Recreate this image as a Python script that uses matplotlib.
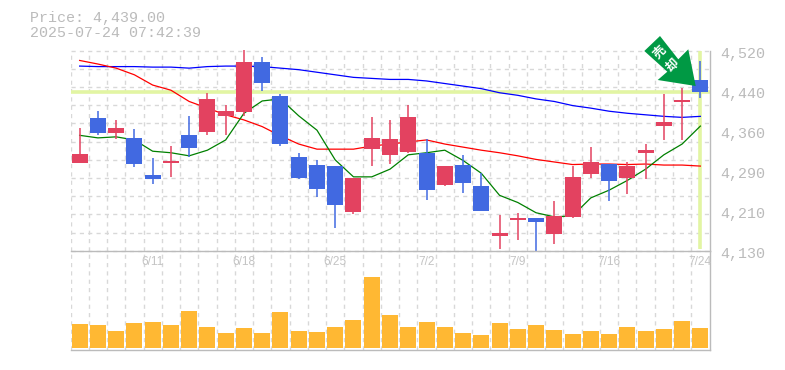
import numpy as np
import matplotlib
matplotlib.use('Agg')
import matplotlib.pyplot as plt
from matplotlib.patches import Polygon

opens = [4301, 4389, 4360, 4350, 4278, 4301, 4356, 4362, 4393, 4400, 4498, 4432, 4313, 4297, 4295, 4206, 4328, 4317,
         4323, 4321, 4258, 4297, 4256, 4159, 4190, 4194, 4163, 4196, 4280, 4299, 4272, 4321, 4373, 4420, 4463]
highs = [4369, 4402, 4385, 4367, 4311, 4334, 4393, 4438, 4414, 4521, 4508, 4436, 4321, 4307, 4295, 4272, 4391, 4385,
         4414, 4348, 4295, 4317, 4282, 4200, 4204, 4194, 4227, 4295, 4332, 4299, 4303, 4338, 4436, 4447, 4500]
lows = [4301, 4356, 4347, 4294, 4261, 4274, 4313, 4356, 4356, 4393, 4441, 4334, 4270, 4235, 4175, 4202, 4295, 4299,
        4321, 4229, 4256, 4243, 4207, 4133, 4151, 4130, 4143, 4194, 4272, 4227, 4241, 4270, 4346, 4346, 4428]
closes = [4319, 4360, 4369, 4299, 4270, 4305, 4330, 4426, 4402, 4498, 4457, 4338, 4272, 4250, 4219, 4272, 4350, 4348,
          4391, 4248, 4295, 4262, 4207, 4165, 4194, 4186, 4198, 4274, 4303, 4266, 4295, 4326, 4381, 4424, 4439]

ma_long = [4490, 4489, 4489, 4489, 4488, 4488, 4486, 4489, 4490, 4490, 4489, 4486, 4483, 4478, 4473, 4468, 4466, 4464,
           4464, 4461, 4456, 4451, 4446, 4438, 4433, 4426, 4421, 4413, 4408, 4402, 4398, 4395, 4392, 4390, 4392]
ma_mid = [4501, 4494, 4486, 4473, 4453, 4443, 4421, 4408, 4395, 4385, 4372, 4354, 4338, 4328, 4328, 4328, 4334, 4338,
          4342, 4346, 4338, 4332, 4326, 4321, 4315, 4308, 4303, 4298, 4299, 4299, 4298, 4299, 4297, 4297, 4295]
ma_short = [4355, 4350, 4352, 4346, 4324, 4321, 4315, 4326, 4346, 4398, 4422, 4426, 4393, 4365, 4307, 4274, 4274, 4289,
            4317, 4321, 4326, 4306, 4281, 4238, 4224, 4204, 4196, 4198, 4233, 4248, 4267, 4289, 4317, 4338, 4373]

volume = [24, 23, 17, 25, 26, 23, 37, 21, 15, 20, 15, 36, 17, 16, 21, 28, 71, 33,
          21, 26, 21, 15, 13, 25, 19, 23, 18, 14, 17, 14, 21, 17, 19, 27, 20]

date_pos = [4, 9, 14, 19, 24, 29, 34]
date_labels = ['6/11', '6/18', '6/25', '7/2', '7/9', '7/16', '7/24']
price_ticks = [4130, 4208, 4286, 4364, 4442, 4520]
price_labels = ['4,130', '4,210', '4,290', '4,360', '4,440', '4,520']
last_price = 4439

W, H = 785, 370
RED = '#E34260'
BLUE = '#4169E1'
AXIS = '#BBBBBB'
GRID = '#D8D8D8'
MARK = '#E2F5A3'
ARROW = '#009944'
MONO = 'Liberation Mono'

def px_rect(left, top, right, bottom):
    return [left / W, 1 - bottom / H, (right - left) / W, (bottom - top) / H]

def px_xy(x, y):
    return x / W, 1 - y / H

fig = plt.figure(figsize=(W / 100, H / 100), dpi=100)
ax = fig.add_axes(px_rect(70.5, 50.7, 709.5, 250.7))
vol = fig.add_axes(px_rect(70.5, 250.7, 709.5, 350))

x = np.arange(len(closes))
edges = np.arange(len(closes)) - 0.5
grid_style = dict(color=GRID, lw=1.0, dashes=(3, 3), zorder=0)

# price panel
ax.set_xlim(-0.5, 34.5)
ax.set_ylim(4130, 4520)
for e in edges:
    ax.axvline(e, **grid_style)
for g in np.linspace(4130, 4520, 12):
    ax.axhline(g, clip_on=False, **grid_style)

ax.axhline(last_price, color=MARK, lw=2.6, zorder=1)
ax.plot([x[-1], x[-1]], [4133, 4520], color=MARK, lw=2.6, zorder=1, solid_capstyle='butt')

ax.plot(x, ma_long, color='#0000FF', lw=0.9, zorder=2)
ax.plot(x, ma_mid, color='#FF0000', lw=0.9, zorder=2)
ax.plot(x, ma_short, color='#008000', lw=0.9, zorder=2)

colors = [RED if c >= o else BLUE for o, c in zip(opens, closes)]
bottoms = np.minimum(opens, closes)
heights = np.abs(np.array(closes) - np.array(opens))
ax.vlines(x, lows, highs, colors=colors, lw=1.1, zorder=3, clip_on=False)
ax.bar(x, heights, 0.875, bottom=bottoms, color=colors, zorder=4)

ax.set_xticks([])
ax.set_yticks([])
for s in ['top', 'left', 'right']:
    ax.spines[s].set_visible(False)
ax.spines['bottom'].set_color(AXIS)
ax.spines['bottom'].set_linewidth(1.0)
ax.spines['bottom'].set_zorder(5)
ax.patch.set_alpha(0)

for v, label in zip(price_ticks, price_labels):
    ax.annotate(label, (1, v), xycoords=ax.get_yaxis_transform(), xytext=(10.5, -3.5), textcoords='offset pixels',
                color=AXIS, fontsize=10.8, family=MONO, va='center', ha='left', annotation_clip=False)

# volume panel
vol.set_xlim(-0.5, 34.5)
vol.set_ylim(-2, 97.3)
for e in edges:
    vol.axvline(e, **grid_style)
vol.bar(x, volume, 0.875, color='#FFB833', zorder=2)
vol.set_xticks([])
vol.set_yticks([])
vol.patch.set_alpha(0)
for s in ['top', 'left']:
    vol.spines[s].set_visible(False)
for s in ['bottom', 'right']:
    vol.spines[s].set_color(AXIS)
    vol.spines[s].set_linewidth(1.0)
for p, label in zip(date_pos, date_labels):
    vol.text(p, 86.3, label, color='#C4C4C4', fontsize=8.6, family='Liberation Sans', ha='center', va='center',
             zorder=3, clip_on=False)

# the right border runs through both panels
fig.add_artist(plt.Line2D(*zip(px_xy(709.5, 50.7), px_xy(709.5, 250.7)), color=AXIS, lw=1.0))

# buy/sell arrow over the last candle
arrow_px = [(660, 36), (644.3, 51), (667.3, 71.7), (657.7, 80), (695.7, 86), (688.3, 49.3), (678.3, 59.3)]
fig.add_artist(Polygon([px_xy(a, b) for a, b in arrow_px], closed=True, transform=fig.transFigure,
                       facecolor=ARROW, edgecolor='none', zorder=6))
for t, (a, b) in zip('売却', [(659.5, 52.5), (672.5, 65)]):
    fig.text(*px_xy(a, b), t, color='white', fontsize=9, fontweight='bold', rotation=45, rotation_mode='anchor',
             ha='center', va='center', family=['Noto Sans CJK JP', 'DejaVu Sans'], zorder=7)

fig.text(*px_xy(30, 18), 'Price: 4,439.00', color=AXIS, fontsize=10.8, family=MONO, va='center', ha='left')
fig.text(*px_xy(30, 33), '2025-07-24 07:42:39', color=AXIS, fontsize=10.8, family=MONO, va='center', ha='left')

fig.savefig('out.png', dpi=100)
